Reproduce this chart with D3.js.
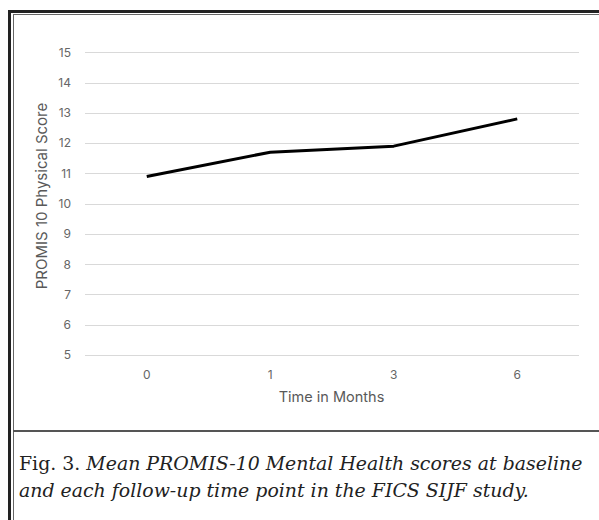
<!DOCTYPE html>
<html><head><meta charset="utf-8">
<script src="https://cdn.jsdelivr.net/npm/d3@7/dist/d3.min.js"></script>
<style>html,body{margin:0;padding:0;background:#fff;}svg{display:block;}</style>
</head><body>
<script>
const categories = ["0", "1", "3", "6"];
const values = [10.9, 11.7, 11.9, 12.8];
const yTicks = [5, 6, 7, 8, 9, 10, 11, 12, 13, 14, 15];
const yTitle = "PROMIS 10 Physical Score";
const xTitle = "Time in Months";
const captionLines = [
  [{t: "Fig. 3. ", i: false}, {t: "Mean PROMIS-10 Mental Health scores at baseline", i: true}],
  [{t: "and each follow-up time point in the FICS SIJF study.", i: true}]
];

const W = 599, H = 520;
const svg = d3.select("body").append("svg").attr("width", W).attr("height", H);
svg.append("rect").attr("width", W).attr("height", H).attr("fill", "#fff");

// frame
svg.append("line").attr("x1", 9.5).attr("x2", 9.5).attr("y1", 10).attr("y2", H).attr("stroke", "#222").attr("stroke-width", 3);
svg.append("line").attr("x1", 8).attr("x2", W).attr("y1", 11.5).attr("y2", 11.5).attr("stroke", "#222").attr("stroke-width", 3);
svg.append("line").attr("x1", 13.5).attr("x2", 13.5).attr("y1", 14).attr("y2", H).attr("stroke", "#666").attr("stroke-width", 1);
svg.append("line").attr("x1", 13).attr("x2", W).attr("y1", 14.5).attr("y2", 14.5).attr("stroke", "#666").attr("stroke-width", 1);
svg.append("line").attr("x1", 13).attr("x2", W).attr("y1", 431).attr("y2", 431).attr("stroke", "#555").attr("stroke-width", 2);

const x = d3.scaleBand().domain(categories).range([85, 579]);
const y = d3.scaleLinear().domain([5, 15]).range([355, 52.3]);

const font = "Inter, 'Open Sans', sans-serif";
const grid = svg.append("g");
grid.selectAll("line").data(yTicks).join("line")
  .attr("x1", 85).attr("x2", 579)
  .attr("y1", d => Math.round(y(d)) + 0.5).attr("y2", d => Math.round(y(d)) + 0.5)
  .attr("stroke", "#d9d9d9").attr("stroke-width", 1);

const yAxis = svg.append("g").attr("transform", "translate(85,0)")
  .call(d3.axisLeft(y).tickValues(yTicks).tickSize(0).tickPadding(14));
yAxis.select(".domain").remove();
yAxis.selectAll("text").attr("fill", "#666").style("font-family", font).style("font-size", "12px");

const xAxis = svg.append("g").attr("transform", "translate(0,355)")
  .call(d3.axisBottom(x).tickSize(0).tickPadding(15));
xAxis.select(".domain").remove();
xAxis.selectAll("text").attr("fill", "#666").style("font-family", font).style("font-size", "12px");

svg.append("text").attr("transform", "translate(47,196) rotate(-90)")
  .attr("text-anchor", "middle").attr("fill", "#595959")
  .style("font-family", font).style("font-size", "15px").text(yTitle);
svg.append("text").attr("x", 331.5).attr("y", 402)
  .attr("text-anchor", "middle").attr("fill", "#595959")
  .style("font-family", font).style("font-size", "14.5px").text(xTitle);

const line = d3.line().x((d, i) => x(categories[i]) + x.bandwidth() / 2).y(d => y(d));
svg.append("path").datum(values).attr("d", line)
  .attr("fill", "none").attr("stroke", "#000").attr("stroke-width", 3).attr("stroke-linejoin", "round");

// caption
const cap = svg.append("g");
const baselines = [470, 497];
const texts = captionLines.map((parts, li) => {
  const t = cap.append("text").attr("x", 19).attr("y", baselines[li])
    .attr("fill", "#222").style("font-family", "'DejaVu Serif', serif").style("font-size", "17px");
  parts.forEach(p => t.append("tspan").style("font-style", p.i ? "italic" : "normal").text(p.t));
  return t;
});
const w0 = texts[0].node().getComputedTextLength();
const fs = 17 * 564 / w0;
texts.forEach(t => t.style("font-size", fs + "px"));
</script>
</body></html>
